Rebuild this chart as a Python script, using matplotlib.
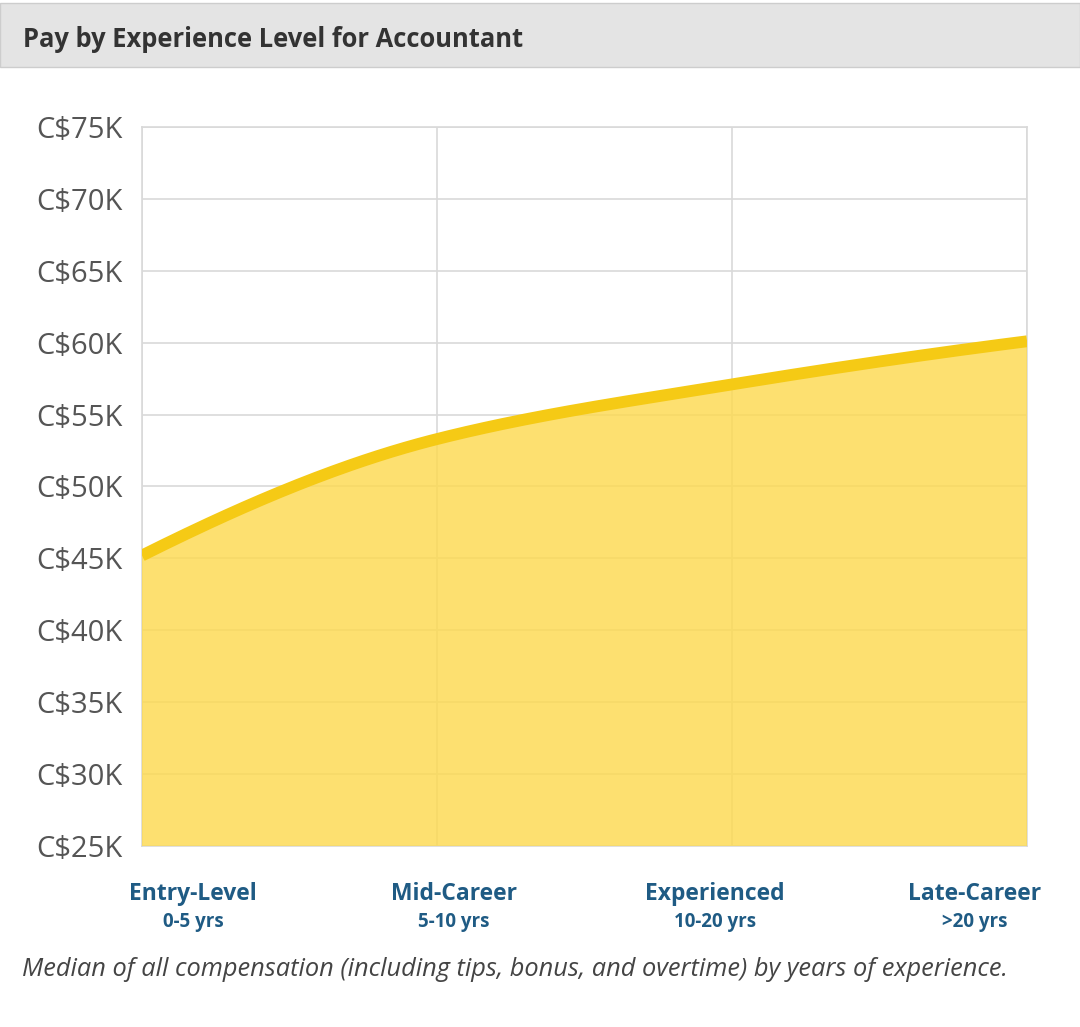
import matplotlib.pyplot as plt
import matplotlib.patches as patches
import numpy as np

# data (in thousands of C$)
levels = ['Entry-Level', 'Mid-Career', 'Experienced', 'Late-Career']
years = ['0-5 yrs', '5-10 yrs', '10-20 yrs', '>20 yrs']
pay = [45.2, 53.3, 57.1, 60.1]
yticks = [25, 30, 35, 40, 45, 50, 55, 60, 65, 70, 75]

plt.rcParams['font.family'] = ['Open Sans', 'DejaVu Sans']


def pchip_curve(x, y, n=200):
    # monotone cubic hermite, only used to draw a smooth line through the points
    x = np.asarray(x, float)
    y = np.asarray(y, float)
    h = np.diff(x)
    d = np.diff(y) / h
    m = np.zeros_like(y)
    for k in range(1, len(x) - 1):
        if d[k - 1] * d[k] > 0:
            w1 = 2 * h[k] + h[k - 1]
            w2 = h[k] + 2 * h[k - 1]
            m[k] = (w1 + w2) / (w1 / d[k - 1] + w2 / d[k])
    m[0] = ((2 * h[0] + h[1]) * d[0] - h[0] * d[1]) / (h[0] + h[1])
    m[-1] = ((2 * h[-1] + h[-2]) * d[-1] - h[-1] * d[-2]) / (h[-1] + h[-2])
    xs = np.linspace(x[0], x[-1], n)
    idx = np.clip(np.searchsorted(x, xs) - 1, 0, len(x) - 2)
    t = (xs - x[idx]) / h[idx]
    h00 = 2 * t**3 - 3 * t**2 + 1
    h10 = t**3 - 2 * t**2 + t
    h01 = -2 * t**3 + 3 * t**2
    h11 = t**3 - t**2
    ys = h00 * y[idx] + h10 * h[idx] * m[idx] + h01 * y[idx + 1] + h11 * h[idx] * m[idx + 1]
    return xs, ys


fig = plt.figure(figsize=(10.8, 10.27), dpi=100)
fig.patch.set_facecolor('white')

# title bar
bar = patches.Rectangle((0, 0.9348), 1, 0.062, transform=fig.transFigure,
                        facecolor='#e4e4e4', edgecolor='#cdcdcd', linewidth=1)
fig.patches.append(bar)
fig.text(0.021, 0.962, 'Pay by Experience Level for Accountant', fontsize=18.4,
         fontweight='bold', color='#333333', va='center', ha='left')

ax = fig.add_axes([0.1315, 0.1763, 0.8195, 0.7])
x_pos = np.arange(len(pay))
xs, ys = pchip_curve(x_pos, pay)

ax.fill_between(xs, 25, ys, facecolor='#fdda50', alpha=0.82, linewidth=0, zorder=3)
ax.plot(xs, ys, color='#f5ca15', linewidth=8.5, solid_capstyle='butt', zorder=4)

ax.set_xlim(0, 3)
ax.set_ylim(25, 75)
ax.set_xticks(x_pos)
ax.set_xticklabels([])
ax.set_yticks(yticks)
ax.set_yticklabels(['C$%dK' % v for v in yticks], fontsize=21, color='#555555')
ax.tick_params(axis='both', length=0, pad=14)
ax.grid(True, color='#d9d9d9', linewidth=1.2, zorder=1)
ax.set_axisbelow(True)
for s in ax.spines.values():
    s.set_color('#d9d9d9')
    s.set_linewidth(1.2)

# category labels sit evenly across the width, not on the grid lines
label_x = [193, 454, 715, 975]
for lx, lev, yr in zip(label_x, levels, years):
    fig.text(lx / 1080, 1 - 894 / 1027, lev, fontsize=16.5, fontweight='bold',
             color='#1f5b84', ha='center', va='center')
    fig.text(lx / 1080, 1 - 922 / 1027, yr, fontsize=13.5, fontweight='bold',
             color='#1f5b84', ha='center', va='center')

fig.text(0.02, 1 - 969 / 1027,
         'Median of all compensation (including tips, bonus, and overtime) by years of experience.',
         fontsize=18.3, style='italic', color='#444444', ha='left', va='center')

fig.savefig('out.png', dpi=100)
